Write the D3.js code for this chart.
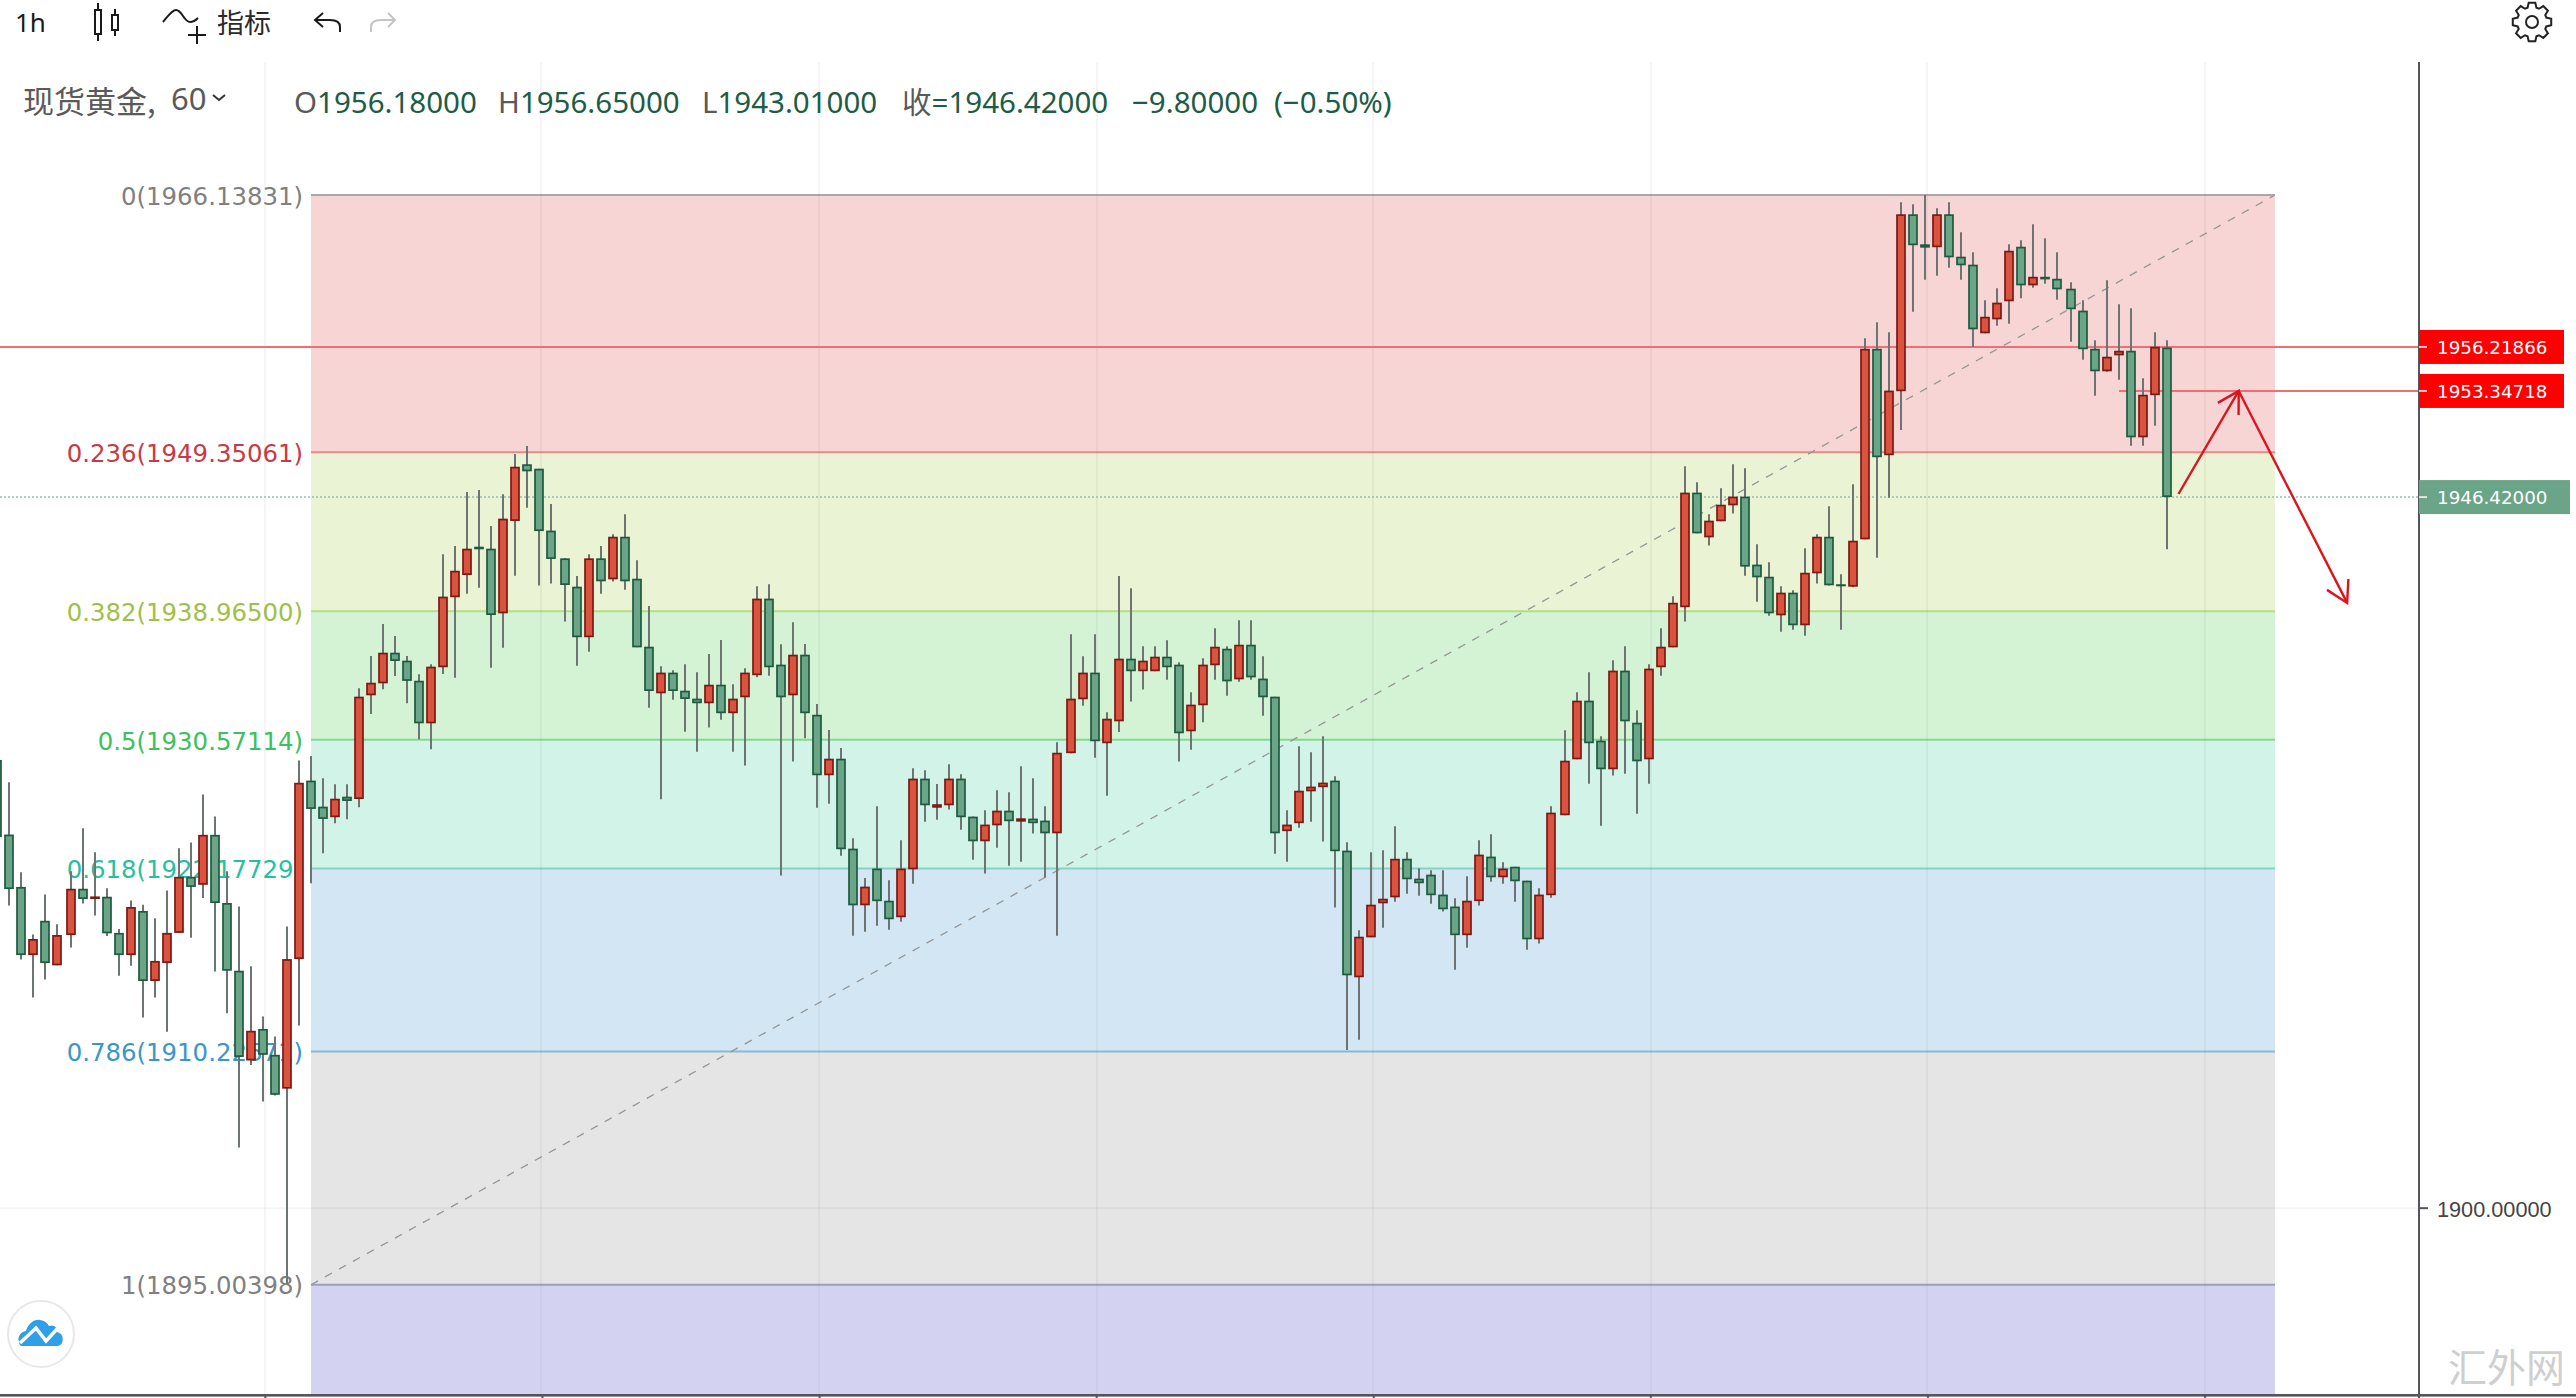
<!DOCTYPE html>
<html>
<head>
<meta charset="utf-8">
<title>现货黄金</title>
<script src="https://cdn.jsdelivr.net/npm/d3@7/dist/d3.min.js"></script>
<style>
  html, body { margin: 0; padding: 0; background: #fff; overflow: hidden; }
  svg { display: block; }
  text { font-family: "Noto Sans", "Noto Sans CJK SC", sans-serif; }
</style>
</head>
<body>
<svg id="chart" width="2576" height="1398"></svg>
<script>
// hourly candles
const opens = [
  1929.26,1924.39,1920.97,1916.52,1918.76,1915.85,1917.83,1920.85,1920.18,1920.33,
  1917.97,1916.52,1919.40,1914.83,1916.00,1917.97,1921.63,1921.11,1924.37,1919.92,
  1915.50,1909.64,1911.70,1910.01,1907.80,1916.26,1927.91,1926.21,1925.52,1926.86,
  1926.71,1933.48,1934.26,1936.26,1935.74,1934.43,1931.65,1935.31,1939.88,1941.33,
  1943.18,1943.05,1938.83,1944.86,1948.56,1948.27,1944.23,1942.42,1940.57,1937.27,
  1942.42,1941.05,1943.83,1941.09,1936.65,1933.61,1934.96,1933.78,1933.26,1932.96,
  1934.17,1932.31,1933.35,1934.79,1939.79,1935.48,1933.48,1936.13,1932.21,1928.26,
  1929.34,1923.47,1919.77,1922.17,1920.07,1918.99,1922.12,1928.04,1926.14,1926.30,
  1928.04,1925.56,1923.95,1924.99,1925.95,1925.23,1925.43,1925.30,1924.47,1929.70,
  1933.22,1934.96,1930.35,1931.78,1935.87,1935.05,1935.05,1936.00,1935.48,1931.13,
  1932.83,1935.44,1936.52,1934.52,1936.78,1934.57,1933.39,1924.61,1925.13,1927.21,
  1927.48,1927.91,1923.34,1915.07,1917.68,1919.90,1920.29,1922.81,1921.51,1921.77,
  1920.47,1919.69,1917.82,1920.04,1922.95,1921.60,1922.29,1921.38,1917.55,1920.43,
  1925.65,1929.30,1933.13,1930.52,1928.65,1935.09,1931.69,1929.30,1935.31,1936.61,
  1939.23,1946.71,1943.79,1944.84,1945.88,1946.45,1942.01,1941.22,1938.70,1940.18,
  1938.05,1941.44,1943.83,1940.73,1940.57,1943.66,1956.10,1949.15,1953.33,1964.88,
  1962.92,1962.73,1964.88,1962.11,1961.59,1957.11,1958.02,1959.20,1962.76,1960.24,
  1960.80,1960.67,1960.02,1958.59,1956.10,1954.63,1955.67,1955.97,1950.32,1953.07,
  1956.18
];
const highs = [
  1930.00,1927.80,1921.93,1917.86,1920.47,1918.53,1921.99,1924.80,1923.23,1920.88,
  1918.23,1920.09,1919.81,1918.93,1920.73,1923.49,1923.87,1927.01,1925.56,1921.99,
  1919.69,1915.79,1912.51,1911.20,1918.38,1929.22,1929.52,1928.07,1927.67,1927.67,
  1933.94,1936.05,1938.14,1937.35,1936.05,1934.85,1935.50,1942.68,1943.23,1946.75,
  1946.88,1944.53,1946.60,1949.23,1949.75,1948.27,1945.97,1942.42,1941.27,1942.68,
  1943.23,1943.99,1945.30,1942.29,1939.31,1935.37,1935.11,1935.50,1934.98,1936.18,
  1937.09,1934.20,1935.24,1940.60,1940.73,1936.81,1938.25,1936.83,1932.91,1931.22,
  1930.04,1924.15,1921.56,1926.24,1921.41,1924.01,1928.72,1928.59,1927.69,1928.98,
  1928.33,1925.56,1925.98,1927.28,1927.15,1928.85,1928.07,1926.24,1930.41,1937.46,
  1936.03,1937.46,1932.37,1941.27,1940.47,1936.68,1936.68,1937.07,1935.64,1933.68,
  1935.90,1937.85,1936.68,1938.38,1938.38,1936.03,1933.39,1925.98,1930.15,1929.76,
  1930.80,1928.19,1923.89,1918.14,1923.23,1923.36,1924.93,1923.23,1922.19,1922.06,
  1922.06,1920.23,1921.67,1924.01,1924.41,1922.58,1922.29,1921.38,1920.88,1926.24,
  1931.20,1933.68,1934.98,1930.80,1935.77,1936.68,1932.50,1935.50,1937.85,1939.94,
  1948.43,1947.38,1945.30,1946.99,1948.56,1948.30,1943.34,1942.16,1940.60,1940.33,
  1943.08,1943.99,1945.82,1941.38,1947.25,1956.78,1957.83,1957.18,1965.66,1965.53,
  1966.14,1965.27,1965.66,1963.70,1962.40,1959.26,1960.05,1962.92,1963.18,1964.23,
  1963.31,1962.40,1960.44,1959.26,1956.65,1960.57,1959.00,1958.74,1954.17,1957.18,
  1956.65
];
const lows = [
  1923.80,1919.75,1916.23,1913.76,1914.92,1915.85,1917.01,1919.89,1919.11,1917.77,
  1915.18,1915.82,1912.45,1913.76,1911.52,1917.97,1917.65,1920.24,1915.45,1912.72,
  1903.96,1909.34,1906.96,1907.36,1895.10,1911.93,1921.21,1923.17,1925.13,1925.39,
  1926.17,1932.26,1933.87,1934.74,1932.96,1930.61,1929.96,1934.87,1934.63,1940.11,
  1940.50,1935.28,1936.59,1941.29,1945.73,1940.64,1940.77,1938.29,1935.41,1936.33,
  1940.11,1940.90,1940.37,1936.61,1932.67,1926.69,1933.19,1931.10,1929.80,1931.37,
  1931.89,1929.80,1928.89,1934.65,1934.76,1921.71,1929.15,1930.68,1926.14,1926.40,
  1923.01,1917.79,1918.05,1918.44,1918.18,1918.70,1921.18,1925.23,1925.36,1926.02,
  1924.71,1922.75,1921.84,1923.53,1922.36,1922.62,1924.45,1921.58,1917.79,1929.70,
  1932.80,1929.41,1926.93,1931.09,1933.07,1933.85,1935.05,1934.50,1929.15,1929.93,
  1931.72,1934.50,1933.45,1934.37,1934.50,1932.15,1923.14,1922.62,1924.84,1925.23,
  1923.93,1919.62,1910.33,1911.00,1917.68,1918.31,1920.01,1920.53,1920.40,1919.88,
  1919.36,1915.57,1917.00,1919.75,1921.31,1921.18,1920.01,1916.87,1917.27,1920.27,
  1925.65,1929.30,1927.71,1924.97,1928.24,1928.36,1925.75,1927.71,1934.76,1936.61,
  1938.29,1944.05,1943.25,1944.84,1945.34,1941.29,1939.59,1938.68,1937.63,1937.76,
  1937.37,1940.77,1940.64,1937.76,1940.53,1943.66,1942.46,1946.38,1950.80,1958.52,
  1960.61,1960.87,1961.39,1960.61,1956.22,1957.11,1957.60,1957.74,1959.40,1960.09,
  1960.35,1959.30,1956.56,1955.39,1953.04,1954.60,1954.08,1949.77,1949.77,1951.08,
  1943.01
];
const closes = [
  1924.23,1920.83,1916.52,1917.57,1916.00,1917.83,1920.85,1920.18,1920.35,1917.94,
  1916.52,1919.66,1914.83,1916.14,1917.97,1921.63,1920.97,1924.37,1919.92,1915.50,
  1909.87,1911.58,1910.01,1907.40,1916.26,1927.77,1926.06,1925.41,1926.73,1926.58,
  1933.39,1934.30,1936.26,1935.72,1934.42,1931.65,1935.35,1939.92,1941.61,1943.05,
  1943.01,1938.72,1945.01,1948.40,1948.10,1944.20,1942.38,1940.68,1937.27,1942.42,
  1940.92,1943.83,1940.92,1936.61,1933.76,1934.96,1933.76,1933.24,1932.96,1934.17,
  1932.31,1933.26,1934.96,1939.79,1935.31,1933.35,1936.13,1932.31,1928.26,1929.34,
  1923.43,1919.77,1920.99,1920.04,1918.86,1922.17,1928.04,1926.30,1926.37,1928.04,
  1925.52,1923.95,1925.04,1925.95,1925.26,1925.45,1925.13,1924.47,1929.73,1933.26,
  1934.96,1930.48,1931.95,1935.87,1935.05,1935.74,1936.00,1935.31,1931.00,1932.87,
  1935.48,1936.65,1934.39,1936.78,1934.65,1933.35,1924.47,1925.04,1927.25,1927.52,
  1927.78,1923.30,1915.20,1917.72,1919.81,1920.20,1922.81,1921.47,1921.21,1920.43,
  1919.51,1917.82,1920.07,1923.08,1921.60,1922.17,1921.34,1917.55,1920.47,1925.82,
  1929.21,1933.13,1930.35,1928.65,1935.09,1931.78,1929.17,1935.22,1936.65,1939.52,
  1946.71,1944.05,1944.88,1945.92,1946.45,1941.88,1941.18,1938.83,1940.18,1938.05,
  1941.48,1943.83,1940.66,1940.64,1943.57,1956.10,1949.02,1953.37,1964.88,1962.86,
  1962.70,1964.88,1962.07,1961.55,1957.37,1958.19,1959.11,1962.50,1960.24,1960.80,
  1960.63,1959.98,1958.68,1956.07,1954.63,1955.58,1955.97,1950.32,1953.10,1956.23,
  1946.42
];

// fibonacci retracement tool
const fibLevels = ["0", "0.236", "0.382", "0.5", "0.618", "0.786", "1"];
const fibPrices = [1966.13831, 1949.35061, 1938.965, 1930.57114, 1922.17729, 1910.22671, 1895.00398];
const fibText = ["#808080", "#c73a46", "#a0c048", "#3cc060", "#28bfa0", "#3a96c8", "#808080"];
const fibLine = ["#a8a8a8", "#e58a8a", "#b4dc84", "#84d894", "#84d4c4", "#8cb8d8", "#9c9cbc"];
const fibFill = ["#f7d5d5", "#eaf3d4", "#d4f3d4", "#d2f4e8", "#d2e7f3", "#e5e5e5", "#d3d3f1"];
const fibStartIdx = 26;
const fibEndIdx = 189;

// time ticks are candle indices, 23 bars apart
const timeTicks = [22, 45, 68, 91, 114, 137, 160, 183];
const priceTicks = [1900];

const tagPrices = [1956.21866, 1953.34718, 1946.42];
const tagStartIdx = [null, 176, null];

// hand drawn arrows: candle index / price
const arrowUp = [[181, 1946.62], [186, 1953.34718]];
const arrowDown = [[186, 1953.34718], [195, 1939.51]];

const headerParts = [
  { x: 294, label: "O", value: "1956.18000" },
  { x: 498, label: "H", value: "1956.65000" },
  { x: 702, label: "L", value: "1943.01000" },
  { x: 902, label: "收", value: "=1946.42000" },
  { x: 1132, label: "", value: "−9.80000" },
  { x: 1274, label: "", value: "(−0.50%)" }
];

const svg = d3.select("#chart");
const width = 2576, height = 1398;
const axisX = 2419, chartTop = 62, chartBottom = 1394;

const redFill = "#d9533f", redLine = "#7a1a14";
const greenFill = "#6ba587", greenLine = "#1f5a40";

const n = opens.length;
const x = d3.scaleLinear().domain([0, n - 1]).range([-2.25, 2166.426]);
const y = d3.scaleLinear().domain([1895.00398, 1966.13831]).range([1284.7, 195]);
// candles sit on a 2px grid in the original screenshot
const snap = v => 2 * Math.round((v - 1) / 2) + 1;
const xs = i => snap(x(i));
const gridX = i => snap(x(i)) + 2;

// ---- fib bands
const bandX0 = xs(fibStartIdx), bandX1 = xs(fibEndIdx);
const fib = svg.append("g");
fib.selectAll("rect").data(fibPrices).enter().append("rect")
  .attr("x", bandX0)
  .attr("width", bandX1 - bandX0)
  .attr("y", d => y(d))
  .attr("height", (d, i) => (i < fibPrices.length - 1 ? y(fibPrices[i + 1]) : chartBottom) - y(d))
  .attr("fill", (d, i) => fibFill[i]);

// ---- grid
const grid = svg.append("g").attr("stroke", "rgba(110,110,120,0.07)").attr("stroke-width", 2);
grid.selectAll("line.v").data(timeTicks).enter().append("line")
  .attr("class", "v")
  .attr("x1", gridX).attr("x2", gridX)
  .attr("y1", chartTop).attr("y2", chartBottom);
grid.selectAll("line.h").data(priceTicks).enter().append("line")
  .attr("class", "h")
  .attr("x1", 0).attr("x2", axisX)
  .attr("y1", d => y(d)).attr("y2", d => y(d));

fib.selectAll("line").data(fibPrices).enter().append("line")
  .attr("x1", bandX0).attr("x2", bandX1)
  .attr("y1", d => y(d)).attr("y2", d => y(d))
  .attr("stroke", (d, i) => fibLine[i])
  .attr("stroke-width", 2);

fib.selectAll("text").data(fibPrices).enter().append("text")
  .attr("x", bandX0 - 8)
  .attr("y", d => y(d) + 1)
  .attr("dy", "0.36em")
  .attr("text-anchor", "end")
  .attr("fill", (d, i) => fibText[i])
  .style("font-family", "'DejaVu Sans'")
  .style("font-size", "24.4px")
  .text((d, i) => `${fibLevels[i]}(${d.toFixed(5)})`);

// diagonal of the fib tool
svg.append("line")
  .attr("x1", bandX0).attr("y1", y(fibPrices[6]))
  .attr("x2", bandX1).attr("y2", y(fibPrices[0]))
  .attr("stroke", "#969696")
  .attr("stroke-width", 1.3)
  .attr("stroke-dasharray", "8 8");

// ---- price lines
svg.append("g").selectAll("line").data(tagPrices).enter().append("line")
  .attr("x1", (d, i) => tagStartIdx[i] === null ? 0 : xs(tagStartIdx[i]))
  .attr("x2", axisX)
  .attr("y1", d => y(d)).attr("y2", d => y(d))
  .attr("stroke", (d, i) => i < 2 ? "#ef6f78" : "#9dbbad")
  .attr("stroke-width", (d, i) => i < 2 ? 2 : 1.6)
  .attr("stroke-dasharray", (d, i) => i < 2 ? null : "2 2");

// ---- candles
const candles = svg.append("g");
candles.selectAll("line").data(d3.range(n)).enter().append("line")
  .attr("x1", xs).attr("x2", xs)
  .attr("y1", i => y(highs[i])).attr("y2", i => y(lows[i]))
  .attr("stroke", "#6e7471")
  .attr("stroke-width", 2);
candles.selectAll("rect").data(d3.range(n)).enter().append("rect")
  .attr("x", i => xs(i) - 4)
  .attr("width", 8)
  .attr("y", i => y(Math.max(opens[i], closes[i])) + 0.85)
  .attr("height", i => Math.max(0.4, Math.abs(y(opens[i]) - y(closes[i])) - 1.7))
  .attr("fill", i => closes[i] >= opens[i] ? redFill : greenFill)
  .attr("stroke", i => closes[i] >= opens[i] ? redLine : greenLine)
  .attr("stroke-width", 1.7);

// ---- arrows
function drawArrow(points) {
  const [a, b] = points.map(p => [x(p[0]), y(p[1])]);
  const ang = Math.atan2(a[1] - b[1], a[0] - b[0]);
  const barb = s => [b[0] + 24 * Math.cos(ang + s), b[1] + 24 * Math.sin(ang + s)];
  const line = d3.line();
  const g = svg.append("g").attr("fill", "none").attr("stroke", "#d9161f").attr("stroke-width", 2.4);
  g.append("path").attr("d", line([a, b]));
  g.append("path").attr("d", line([barb(Math.PI / 6), b, barb(-Math.PI / 6)]));
}
drawArrow(arrowUp);
drawArrow(arrowDown);

// ---- axes
const yAxis = d3.axisRight(y).tickValues(priceTicks).tickFormat(d3.format(".5f")).tickSize(9).tickPadding(9).offset(0);
const yG = svg.append("g").attr("transform", `translate(${axisX},0)`).call(yAxis);
yG.select(".domain").remove();
yG.selectAll(".tick line").attr("stroke", "#555").attr("stroke-width", 2);
yG.selectAll(".tick text")
  .attr("fill", "#444")
  .attr("dy", "0.42em")
  .style("font-family", "'Liberation Sans'")
  .style("font-size", "21.7px");
svg.append("line")
  .attr("x1", axisX).attr("x2", axisX)
  .attr("y1", chartTop).attr("y2", height)
  .attr("stroke", "#55555c").attr("stroke-width", 2);

const timeScale = x.copy().range(x.range().map(r => r + 2.5));
const xAxis = d3.axisBottom(timeScale).tickValues(timeTicks).tickFormat("").tickSize(4).offset(0);
const xG = svg.append("g").attr("transform", `translate(0,${chartBottom})`).call(xAxis);
xG.select(".domain").remove();
xG.selectAll(".tick line").attr("stroke", "#55555c").attr("stroke-width", 2);
svg.append("rect").attr("x", 0).attr("y", chartBottom).attr("width", width).attr("height", 2.6).attr("fill", "#55555c");

// ---- price tags
const tagWidth = [145, 145, 151];
const tags = svg.append("g").selectAll("g").data(tagPrices).enter().append("g")
  .attr("transform", d => `translate(${axisX},${y(d)})`);
tags.append("rect")
  .attr("x", 0).attr("y", -17)
  .attr("width", (d, i) => tagWidth[i]).attr("height", 34)
  .attr("fill", (d, i) => i < 2 ? "#ff0000" : greenFill);
tags.append("line")
  .attr("x1", 0).attr("x2", 8)
  .attr("stroke", "rgba(255,255,255,0.75)").attr("stroke-width", 2);
tags.append("text")
  .attr("x", 18).attr("dy", "0.36em")
  .attr("fill", "#fff")
  .style("font-family", "'DejaVu Sans'")
  .style("font-size", "18.3px")
  .text(d => d.toFixed(5));

// ---- legend line
const title = svg.append("g").attr("fill", "#5a5a5a").style("font-size", "31px");
title.append("text").attr("x", 23).attr("y", 113)
  .style("font-family", "'Noto Sans CJK SC'")
  .text("现货黄金,");
title.append("text").attr("x", 171).attr("y", 110).text("60");
svg.append("path").attr("d", "M213,95 L219,100 L225,95")
  .attr("fill", "none").attr("stroke", "#333").attr("stroke-width", 2);

const legend = svg.append("g").style("font-size", "29.5px");
headerParts.forEach(p => {
  const t = legend.append("text").attr("x", p.x).attr("y", 113);
  t.append("tspan").attr("fill", "#5a5a5a").text(p.label);
  t.append("tspan").attr("fill", "#1d5c46").text(p.value);
});

// ---- toolbar
const bar = svg.append("g");
bar.append("text").attr("x", 15).attr("y", 32).attr("fill", "#1a1a1a")
  .style("font-size", "26px").text("1h");
bar.append("text").attr("x", 217).attr("y", 33).attr("fill", "#2a2a2a")
  .style("font-family", "'Noto Sans CJK SC'").style("font-size", "27px").text("指标");
const ink = bar.append("g").attr("fill", "none").attr("stroke", "#1a1a1a").attr("stroke-width", 2);
ink.append("path").attr("d", "M98,3 V10 M98,34 V41 M115,9 V15 M115,30 V36");
ink.append("rect").attr("x", 95).attr("y", 10).attr("width", 6).attr("height", 24);
ink.append("rect").attr("x", 112).attr("y", 15).attr("width", 6).attr("height", 15);
ink.append("path").attr("d", "M163,22 C168,16 172,10 176,10 C182,10 184,22 190,22 C193,22 196,20 198,18");
ink.append("path").attr("d", "M197,26 V44 M188,35 H206");
ink.append("path").attr("d", "M340,32 V27 C340,21 335,20 330,20 H315 M323,13 L315,20 L323,27");
bar.append("path").attr("d", "M371,32 V27 C371,21 376,20 381,20 H395 M388,13 L395,20 L388,27")
  .attr("fill", "none").attr("stroke", "#c4c4c4").attr("stroke-width", 2);

// settings gear
const gearPts = d3.range(8).flatMap(k => {
  const a = k * Math.PI / 4;
  return [[a - 0.3, 15], [a - 0.17, 19.5], [a + 0.17, 19.5], [a + 0.3, 15]];
});
const gear = svg.append("g").attr("transform", "translate(2532,22)")
  .attr("fill", "none").attr("stroke", "#222").attr("stroke-width", 2);
gear.append("path").attr("d", d3.lineRadial().curve(d3.curveLinearClosed)(gearPts));
gear.append("circle").attr("r", 6);

// ---- logo and watermark
const logo = svg.append("g").attr("transform", "translate(41,1334)");
logo.append("circle").attr("r", 33).attr("fill", "#fff").attr("stroke", "#e8e8e8").attr("stroke-width", 2);
logo.append("path")
  .attr("d", "M-22,8 C-24,2 -20,-2 -15,-3 C-13,-10 -7,-15 -1,-14 C5,-13 7,-10 8,-8 C13,-10 17,-6 16,-2 C21,-1 23,4 21,9 C20,11 18,12 16,12 H-19 C-21,12 -22,10 -22,8 Z")
  .attr("fill", "#2f9fe8");
logo.append("path")
  .attr("d", "M-21,9 L-5,-6 L5,7 L17,-6")
  .attr("fill", "none").attr("stroke", "#fff").attr("stroke-width", 3.5);

svg.append("text").attr("x", 2448).attr("y", 1382)
  .attr("fill", "#cfcfcf")
  .style("font-family", "'Noto Sans CJK SC'")
  .style("font-size", "39px")
  .text("汇外网");
</script>
</body>
</html>
